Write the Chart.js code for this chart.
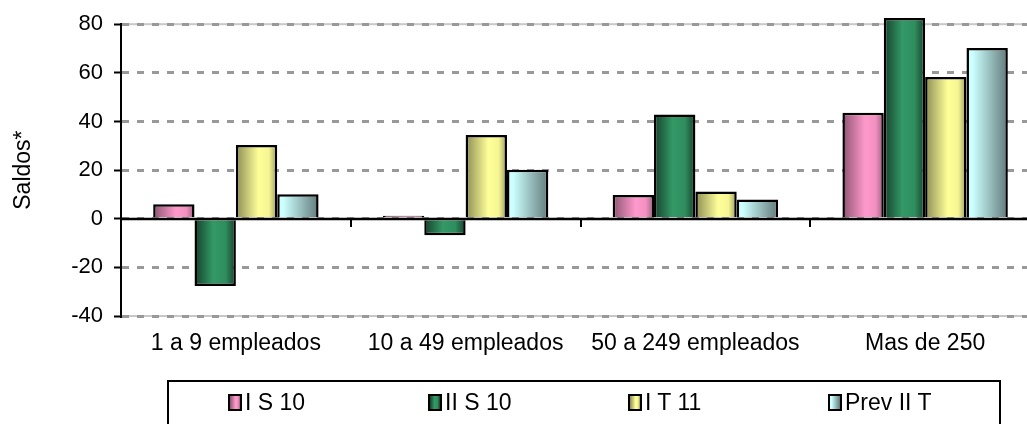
<!DOCTYPE html>
<html>
<head>
<meta charset="utf-8">
<script src="https://cdn.jsdelivr.net/npm/chart.js@4.4.0/dist/chart.umd.min.js"></script>
<style>
html,body{margin:0;padding:0;background:#fff;overflow:hidden;}
#wrap{position:relative;width:1027px;height:424px;overflow:hidden;background:#fff;}
#c{position:absolute;left:0;top:0;}
#legend{position:absolute;left:167px;top:380px;width:834px;height:80px;border:2px solid #000;box-sizing:border-box;
  font-family:"Liberation Sans",Arial,sans-serif;font-size:23px;color:#000;display:grid;
  grid-template-columns:200px 200px 200px 200px;padding-left:59px;padding-top:7px;}
.item{display:flex;align-items:center;height:27px;line-height:27px;white-space:nowrap;}
.sw{width:10px;height:13px;border:2px solid #000;margin-right:3px;flex:none;}
</style>
</head>
<body>
<div id="wrap">
<canvas id="c" width="1045" height="424"></canvas>
<div id="legend"></div>
</div>
<script>
// ---- data ----
const categories = ["1 a 9 empleados", "10 a 49 empleados", "50 a 249 empleados", "Mas de 250"];
const seriesNames = ["I S 10", "II S 10", "I T 11", "Prev II T"];
const valsIS10    = [6.0, 1.2, 9.8, 43.6];
const valsIIS10   = [-27.7, -6.8, 42.9, 82.5];
const valsIT11    = [30.3, 34.4, 11.2, 58.3];
const valsPrevIIT = [10.1, 20.1, 7.9, 70.2];
const yTicks = [-40, -20, 0, 20, 40, 60, 80];
const yAxisTitle = "Saldos*";

// ---- styles ----
const baseColors = ["#FF99CC", "#339966", "#FFFF99", "#CCFFFF"];
const gradStops = [
  [[0, 0.55], [0.55, 1], [0.8, 0.95], [1, 0.62]],
  [[0, 0.42], [0.45, 1], [0.75, 0.92], [1, 0.42]],
  [[0, 0.55], [0.55, 1], [0.8, 0.96], [1, 0.6]],
  [[0, 1], [0.15, 1], [1, 0.48]]
];
const CAT_PCT = 0.72;
const FONT = '"Liberation Sans", Arial, sans-serif';

function shade(hex, f) {
  const n = parseInt(hex.slice(1), 16);
  const r = Math.round(((n >> 16) & 255) * f), g = Math.round(((n >> 8) & 255) * f), b = Math.round((n & 255) * f);
  return `rgb(${r},${g},${b})`;
}

function barFill(k) {
  return (ctx) => {
    const chart = ctx.chart;
    const xs = chart.scales && chart.scales.x;
    if (!xs || ctx.type !== 'data' || !xs.width) return baseColors[k];
    const n = categories.length;
    const groupW = xs.width / n * CAT_PCT;
    const barW = groupW / seriesNames.length;
    const left = xs.getPixelForValue(ctx.dataIndex) - groupW / 2 + ctx.datasetIndex * barW;
    const g = chart.ctx.createLinearGradient(left, 0, left + barW, 0);
    gradStops[k].forEach(([p, f]) => g.addColorStop(p, shade(baseColors[k], f)));
    return g;
  };
}

const seriesValues = [valsIS10, valsIIS10, valsIT11, valsPrevIIT];

const framePlugin = {
  id: 'frame',
  beforeDraw(chart) {
    const {ctx, chartArea: a} = chart;
    ctx.save();
    ctx.strokeStyle = '#c8c8c8';
    ctx.lineWidth = 2;
    ctx.strokeRect(a.left, a.top, a.right - a.left, a.bottom - a.top);
    ctx.restore();
  },
  afterDatasetsDraw(chart) {
    const {ctx, chartArea: a, scales: {x: xs, y: ys}} = chart;
    const y0 = Math.round(ys.getPixelForValue(0));
    ctx.save();
    ctx.strokeStyle = '#000';
    ctx.lineWidth = 2.5;
    ctx.beginPath();
    ctx.moveTo(a.left, y0);
    ctx.lineTo(a.right, y0);
    ctx.stroke();
    ctx.lineWidth = 2;
    ctx.beginPath();
    const n = categories.length;
    for (let i = 1; i <= n; i++) {
      const px = Math.round(xs.left + i * xs.width / n);
      ctx.moveTo(px, y0);
      ctx.lineTo(px, y0 + 8);
    }
    ctx.stroke();
    ctx.restore();
  }
};

new Chart(document.getElementById('c'), {
  type: 'bar',
  data: {
    labels: categories,
    datasets: seriesNames.map((name, k) => ({
      label: name,
      data: seriesValues[k],
      backgroundColor: barFill(k),
      borderColor: '#000',
      borderWidth: 2.5,
      borderSkipped: 'start',
      categoryPercentage: CAT_PCT,
      barPercentage: 1.0,
      clip: false
    }))
  },
  options: {
    responsive: false,
    animation: false,
    devicePixelRatio: 1,
    layout: {padding: {left: 0, right: 5, top: 24, bottom: 68}},
    plugins: {legend: {display: false}, tooltip: {enabled: false}, title: {display: false}},
    scales: {
      x: {
        offset: true,
        afterFit: (s) => { s.height = 40; },
        grid: {display: false, drawTicks: false},
        border: {display: false},
        ticks: {color: '#000', font: {family: FONT, size: 23}, padding: 14, maxRotation: 0, autoSkip: false}
      },
      y: {
        min: -40,
        max: 80,
        afterBuildTicks: (s) => { s.ticks = yTicks.map(v => ({value: v})); },
        afterFit: (s) => { s.width = 121; },
        ticks: {color: '#000', font: {family: FONT, size: 22}, padding: 11},
        grid: {color: '#999999', lineWidth: 3, tickColor: '#000', tickLength: 7, tickWidth: 2, tickBorderDash: []},
        border: {display: true, color: '#000', width: 2, dash: [7, 8]},
        title: {display: true, text: yAxisTitle, color: '#000', font: {family: FONT, size: 23}, padding: {top: 10, bottom: 0}}
      }
    }
  },
  plugins: [framePlugin]
});

// legend (HTML)
const legendEl = document.getElementById('legend');
seriesNames.forEach((name, k) => {
  const it = document.createElement('div');
  it.className = 'item';
  const sw = document.createElement('span');
  sw.className = 'sw';
  sw.style.background = 'linear-gradient(to right,' + gradStops[k].map(([p, f]) => shade(baseColors[k], f) + ' ' + (p * 100) + '%').join(',') + ')';
  const tx = document.createElement('span');
  tx.textContent = name;
  it.appendChild(sw);
  it.appendChild(tx);
  legendEl.appendChild(it);
});
</script>
</body>
</html>
